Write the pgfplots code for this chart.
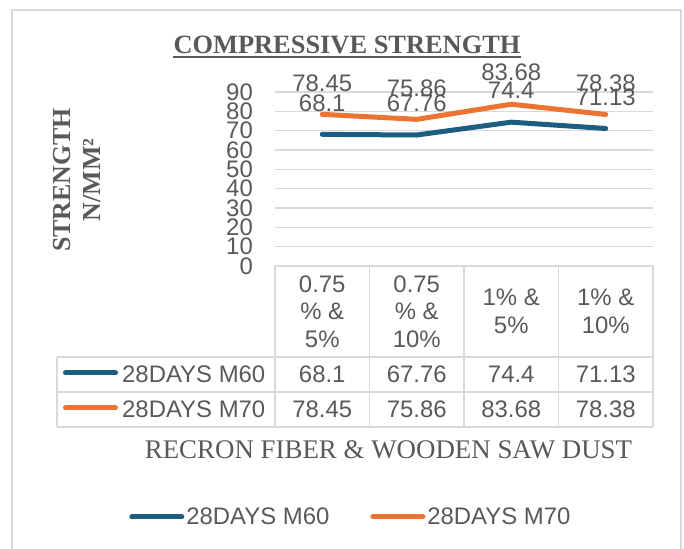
\documentclass[border=0pt]{standalone}
\usepackage{pgfplots}
\pgfplotsset{compat=1.18}
\usepackage{fontspec}
\setmainfont{Liberation Sans}
\newfontfamily\seriffont{Liberation Serif}
\definecolor{cblue}{HTML}{1D5E80}
\definecolor{corange}{HTML}{EC7432}
\definecolor{tgray}{HTML}{595959}
\definecolor{ggray}{HTML}{D9D9D9}
\newcommand{\sfz}{\fontsize{24}{27.5}\selectfont}
\begin{document}
\begin{tikzpicture}
\path[use as bounding box] (0,0) rectangle (684bp,549bp);
\draw[ggray, line width=1.5bp] (12bp,-10bp) rectangle (681bp,539bp);
\begin{axis}[
  at={(275bp,283bp)}, anchor=south west,
  width=378bp, height=174bp, scale only axis,
  xmin=-0.5, xmax=3.5, ymin=0, ymax=90,
  ytick={0,10,...,90},
  xtick={0,1,2,3},
  xticklabels={{0.75\\\% \&\\5\%},{0.75\\\% \&\\10\%},{1\% \&\\5\%},{1\% \&\\10\%}},
  xticklabel style={align=center, anchor=center, yshift=-45.5bp, inner sep=0pt, text=tgray, font=\sfz},
  yticklabel style={anchor=east, inner sep=0pt, xshift=-22bp, text=tgray, font=\sfz},
  major tick length=0pt,
  tick style={draw=none},
  axis line style={draw=none},
  ymajorgrids, grid style={ggray, line width=1.3bp},
  clip=false,
  /pgf/number format/assume math mode=true,
  nodes near coords,
  every node near coord/.append style={anchor=center, yshift=31.5bp, inner sep=0pt, text=tgray, font=\sfz},
  legend columns=2,
  legend style={at={(-0.386,-1.4425)}, anchor=west, draw=none, fill=none, inner sep=0pt,
    font=\sfz, text=tgray,
    nodes={inner sep=2bp},
    /tikz/every even column/.append style={column sep=39bp}},
  legend image code/.code={\draw[#1, line width=5bp, line cap=round] (2.5bp,0bp) -- (52.5bp,0bp);},
]
\addplot[cblue, line width=5bp, line cap=round, line join=round, mark=none]
  coordinates {(0,68.1) (1,67.76) (2,74.4) (3,71.13)};
\addlegendentry{28DAYS M60}
\addplot[corange, line width=5bp, line cap=round, line join=round, mark=none]
  coordinates {(0,78.45) (1,75.86) (2,83.68) (3,78.38)};
\addlegendentry{28DAYS M70}
\end{axis}
% data table grid
\begin{scope}[ggray, line width=1.3bp]
\draw (275bp,283bp) -- (275bp,122bp);
\draw (369.5bp,283bp) -- (369.5bp,122bp);
\draw (464bp,283bp) -- (464bp,122bp);
\draw (558.5bp,283bp) -- (558.5bp,122bp);
\draw (653bp,283bp) -- (653bp,122bp);
\draw (57bp,192bp) -- (653bp,192bp);
\draw (57bp,157bp) -- (653bp,157bp);
\draw (57bp,122bp) -- (653bp,122bp);
\draw (57bp,192bp) -- (57bp,122bp);
\end{scope}
\draw[cblue, line width=5bp, line cap=round] (65.5bp,176bp) -- (115.5bp,176bp);
\draw[corange, line width=5bp, line cap=round] (65.5bp,141bp) -- (115.5bp,141bp);
\begin{scope}[every node/.style={text=tgray, font=\sfz, inner sep=0pt}]
\node[anchor=west] at (122bp,174.5bp) {28DAYS M60};
\node[anchor=west] at (122bp,139.5bp) {28DAYS M70};
\node at (322.25bp,174.5bp) {68.1};
\node at (416.75bp,174.5bp) {67.76};
\node at (511.25bp,174.5bp) {74.4};
\node at (605.75bp,174.5bp) {71.13};
\node at (322.25bp,139.5bp) {78.45};
\node at (416.75bp,139.5bp) {75.86};
\node at (511.25bp,139.5bp) {83.68};
\node at (605.75bp,139.5bp) {78.38};
\end{scope}
% titles
\node[inner sep=0pt, anchor=base, text=tgray, font=\seriffont\bfseries\fontsize{26.5}{30}\selectfont] (t) at (347bp,495bp) {COMPRESSIVE STRENGTH};
\draw[tgray, line width=1.8bp] ([yshift=-3bp]t.base west) -- ([yshift=-3bp]t.base east);
\node[inner sep=0pt, text=tgray, font=\seriffont\fontsize{27}{30}\selectfont] at (388.5bp,99bp) {RECRON FIBER \& WOODEN SAW DUST};
\node[inner sep=0pt, rotate=90, align=center, text=tgray, font=\seriffont\bfseries\fontsize{26}{30}\selectfont] at (77bp,369bp) {STRENGTH\\N/MM²};
\end{tikzpicture}
\end{document}
